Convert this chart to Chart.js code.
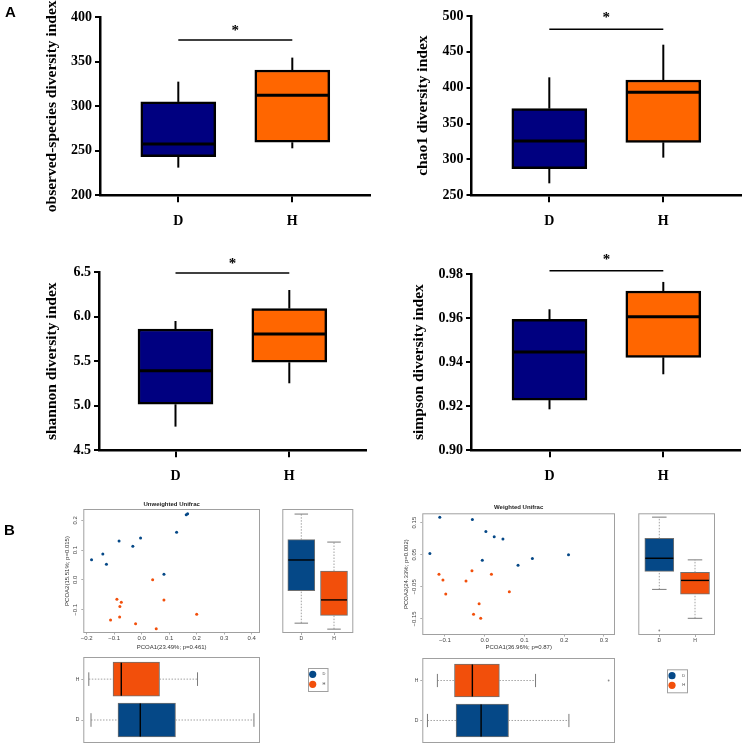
<!DOCTYPE html>
<html>
<head>
<meta charset="utf-8">
<title>Alpha and beta diversity</title>
<script src="https://cdn.jsdelivr.net/npm/chart.js@4.4.1/dist/chart.umd.min.js"></script>
<style>
  html, body { margin: 0; padding: 0; background: #fff; }
  #fig { position: relative; width: 742px; height: 748px; overflow: hidden; }
  #fig canvas { position: absolute; }
  .tag { position: absolute; font: bold 15px/15px "Liberation Sans", Arial, sans-serif; color: #000; }
</style>
</head>
<body>
<div id="fig">
  <canvas id="obs" width="371" height="245" style="left:0;top:0"></canvas>
  <canvas id="chao" width="371" height="245" style="left:371px;top:0"></canvas>
  <canvas id="shan" width="371" height="245" style="left:0;top:250px"></canvas>
  <canvas id="simp" width="371" height="245" style="left:371px;top:250px"></canvas>
  <canvas id="unwSc" width="270" height="161" style="left:0;top:490px"></canvas>
  <canvas id="unwBoxY" width="95" height="161" style="left:270px;top:490px"></canvas>
  <canvas id="unwBoxX" width="345" height="97" style="left:0;top:651px"></canvas>
  <canvas id="wSc" width="250" height="161" style="left:371px;top:490px"></canvas>
  <canvas id="wBoxY" width="112" height="161" style="left:630px;top:490px"></canvas>
  <canvas id="wBoxX" width="345" height="97" style="left:371px;top:651px"></canvas>
  <div class="tag" style="left:5px;top:4px">A</div>
  <div class="tag" style="left:4px;top:522px">B</div>
</div>
<script>
const groups = ['D', 'H'];

// panel A box stats: [min, q1, median, q3, max]
const observedD = [231.1, 243.4, 257.7, 304.9, 327.7];
const observedH = [252.8, 259.6, 312.4, 340.8, 354.7];
const chao1D = [266.7, 287.2, 325.7, 370.8, 414.5];
const chao1H = [302.5, 323.9, 393.6, 410.8, 460.0];
const shannonD = [4.766, 5.017, 5.395, 5.863, 5.953];
const shannonH = [5.253, 5.489, 5.807, 6.092, 6.301];
const simpsonD = [0.9186, 0.9228, 0.9446, 0.9594, 0.9640];
const simpsonH = [0.9345, 0.9422, 0.9606, 0.9723, 0.9764];

const observedTicks = [200, 250, 300, 350, 400];
const chao1Ticks = [250, 300, 350, 400, 450, 500];
const shannonTicks = [4.5, 5.0, 5.5, 6.0, 6.5];
const simpsonTicks = [0.90, 0.92, 0.94, 0.96, 0.98];

// significance bar: [bar level, star level]
const observedSig = [374.5, 387.6];
const chao1Sig = [481.4, 501];
const shannonSig = [6.493, 6.63];
const simpsonSig = [0.9815, 0.9879];

// panel B, PCoA coordinates [PCOA1, PCOA2]
const unwD = [[-0.182, 0.068], [-0.141, 0.087], [-0.128, 0.053], [-0.082, 0.131], [-0.032, 0.113],
  [-0.004, 0.141], [0.081, 0.019], [0.127, 0.160], [0.162, 0.219], [0.167, 0.222]];
const unwH = [[0.040, 0.001], [-0.090, -0.065], [-0.074, -0.075], [-0.079, -0.089], [0.081, -0.067],
  [0.200, -0.115], [-0.113, -0.134], [-0.080, -0.124], [-0.022, -0.147], [0.053, -0.164]];
const wD = [[-0.138, 0.054], [-0.113, 0.167], [-0.031, 0.160], [0.003, 0.122], [0.024, 0.106],
  [0.046, 0.099], [-0.006, 0.033], [0.084, 0.017], [0.120, 0.038], [0.211, 0.050]];
const wH = [[-0.115, -0.011], [-0.105, -0.029], [-0.098, -0.072], [-0.047, -0.032], [-0.032, 0.000],
  [0.017, -0.011], [0.062, -0.065], [-0.014, -0.103], [-0.028, -0.135], [-0.010, -0.148]];

// marginal boxes [min, q1, median, q3, max]
const unwPc2D = [-0.145, -0.036, 0.067, 0.135, 0.221];
const unwPc2H = [-0.165, -0.119, -0.067, 0.030, 0.127];
const unwPc1D = [-0.184, -0.086, -0.005, 0.123, 0.408];
const unwPc1H = [-0.192, -0.104, -0.074, 0.065, 0.203];
const wPc2D = [-0.058, -0.002, 0.039, 0.101, 0.167];
const wPc2H = [-0.148, -0.073, -0.030, -0.005, 0.034];
const wPc1D = [-0.144, -0.072, -0.009, 0.060, 0.212];
const wPc1H = [-0.119, -0.076, -0.031, 0.037, 0.128];
const wPc2Outliers = [[-0.186], []];
const wPc1Outliers = [[], [0.312]];

const unwRangeX = [-0.212, 0.43];
const unwRangeY = [-0.178, 0.238];
const wRangeX = [-0.157, 0.328];
const wRangeY = [-0.200, 0.179];
const unwTicksX = [-0.2, -0.1, 0.0, 0.1, 0.2, 0.3, 0.4];
const unwTicksY = [-0.1, 0.0, 0.1, 0.2];
const wTicksX = [-0.1, 0.0, 0.1, 0.2, 0.3];
const wTicksY = [-0.15, -0.05, 0.05, 0.15];

const navy = '#000080';
const orange = '#FF6600';
const blueB = '#054887';
const orangeB = '#F24F0B';
const serif = '"Liberation Serif", "Times New Roman", serif';
const sans = '"Liberation Sans", Arial, sans-serif';
Chart.defaults.font.family = sans;

const fmt = (v, d) => v.toFixed(d).replace('-', '\u2212');

// whiskers, medians, caps, outliers and the significance bar
function boxDecor(cfg) {
  return {
    id: 'boxDecor',
    afterDatasetsDraw(chart) {
      const ctx = chart.ctx;
      const horiz = chart.options.indexAxis === 'y';
      const iS = horiz ? chart.scales.y : chart.scales.x;
      const vS = horiz ? chart.scales.x : chart.scales.y;
      const seg = (i1, v1, i2, v2) => {
        ctx.beginPath();
        if (horiz) { ctx.moveTo(v1, i1); ctx.lineTo(v2, i2); }
        else { ctx.moveTo(i1, v1); ctx.lineTo(i2, v2); }
        ctx.stroke();
      };
      const p = v => vS.getPixelForValue(v);
      ctx.save();
      cfg.stats.forEach((s, k) => {
        const c = iS.getPixelForValue(k + 1);
        ctx.strokeStyle = cfg.whiskerColor;
        ctx.lineWidth = cfg.whiskerWidth;
        ctx.setLineDash(cfg.dash || []);
        seg(c, p(s[0]), c, p(s[1]));
        seg(c, p(s[3]), c, p(s[4]));
        ctx.setLineDash([]);
        if (cfg.cap) {
          ctx.strokeStyle = cfg.capColor;
          ctx.lineWidth = 1;
          seg(c - cfg.cap, p(s[0]), c + cfg.cap, p(s[0]));
          seg(c - cfg.cap, p(s[4]), c + cfg.cap, p(s[4]));
        }
        ctx.strokeStyle = '#000';
        ctx.lineWidth = cfg.medianWidth;
        seg(c - cfg.half, p(s[2]), c + cfg.half, p(s[2]));
        ((cfg.outliers && cfg.outliers[k]) || []).forEach(v => {
          ctx.fillStyle = '#8a8a8a';
          ctx.beginPath();
          if (horiz) ctx.arc(p(v), c, 0.9, 0, Math.PI * 2);
          else ctx.arc(c, p(v), 0.9, 0, Math.PI * 2);
          ctx.fill();
        });
      });
      if (cfg.sig) {
        const y = p(cfg.sig[0]);
        const x1 = iS.getPixelForValue(1), x2 = iS.getPixelForValue(2);
        ctx.strokeStyle = '#000';
        ctx.lineWidth = 1.5;
        seg(x1, y, x2, y);
        ctx.fillStyle = '#000';
        ctx.font = 'bold 15px ' + serif;
        ctx.textAlign = 'center';
        ctx.textBaseline = 'alphabetic';
        ctx.fillText('*', (x1 + x2) / 2, p(cfg.sig[1]) + 7);
      }
      ctx.restore();
    }
  };
}

// R style frame, rotated y tick labels and legend key
function rFrame(cfg) {
  return {
    id: 'rFrame',
    afterDraw(chart) {
      const { ctx, chartArea: a } = chart;
      ctx.save();
      ctx.strokeStyle = '#a0a0a0';
      ctx.lineWidth = 1;
      ctx.strokeRect(a.left + 0.5, a.top + 0.5, a.right - a.left - 1, a.bottom - a.top - 1);
      if (cfg.yDigits != null) {
        const s = chart.scales.y;
        ctx.fillStyle = '#444';
        ctx.font = '6px ' + sans;
        ctx.textAlign = 'center';
        ctx.textBaseline = 'middle';
        s.ticks.forEach(t => {
          ctx.save();
          ctx.translate(a.left - 8, s.getPixelForValue(t.value));
          ctx.rotate(-Math.PI / 2);
          ctx.fillText(fmt(t.value, cfg.yDigits), 0, 0);
          ctx.restore();
        });
      }
      if (cfg.legend) {
        const L = cfg.legend;
        ctx.strokeStyle = '#a0a0a0';
        ctx.strokeRect(L.x + 0.5, L.y + 0.5, L.w, L.h);
        const colors = chart.data.datasets[0].backgroundColor;
        groups.forEach((g, i) => {
          const cy = L.y + L.first + i * L.gap;
          ctx.fillStyle = colors[i];
          ctx.beginPath();
          ctx.arc(L.x + L.dot, cy, 3.6, 0, Math.PI * 2);
          ctx.fill();
          ctx.fillStyle = '#444';
          ctx.font = '4px ' + sans;
          ctx.textAlign = 'center';
          ctx.textBaseline = 'middle';
          ctx.fillText(g, L.x + L.text, cy);
        });
      }
      ctx.restore();
    }
  };
}

function alphaChart(id, box, statsD, statsH, yTicks, digits, sig, title) {
  const cv = document.getElementById(id);
  const W = cv.width, H = cv.height;
  const unit = box.h - box.d;
  return new Chart(cv, {
    type: 'bar',
    data: {
      datasets: [{
        data: [statsD, statsH].map((s, i) => ({ x: i + 1, y: [s[1], s[3]] })),
        backgroundColor: [navy, orange],
        borderColor: '#000',
        borderWidth: 2.5,
        borderSkipped: false,
        barThickness: 75
      }]
    },
    options: {
      responsive: false,
      animation: false,
      layout: { padding: { left: 0, right: W - box.right, top: box.top, bottom: 0 } },
      plugins: { legend: { display: false }, tooltip: { enabled: false } },
      scales: {
        x: {
          type: 'linear',
          min: 1 - (box.d - box.left) / unit,
          max: 2 + (box.right - box.h) / unit,
          offset: false,
          afterBuildTicks: s => { s.ticks = groups.map((g, i) => ({ value: i + 1 })); },
          afterFit: s => { s.height = H - box.bottom; },
          ticks: { callback: v => groups[v - 1], font: { family: serif, size: 14, weight: 'bold' }, color: '#000', padding: 11, maxRotation: 0 },
          grid: { offset: false, drawOnChartArea: false, tickLength: 7, lineWidth: 2, color: '#000' },
          border: { color: '#000', width: 2.5 }
        },
        y: {
          type: 'linear',
          min: yTicks[0],
          max: yTicks[yTicks.length - 1],
          beginAtZero: false,
          afterBuildTicks: s => { s.ticks = yTicks.map(v => ({ value: v })); },
          afterFit: s => { s.width = box.left; },
          ticks: { callback: v => v.toFixed(digits), font: { family: serif, size: 14, weight: 'bold' }, color: '#000', padding: 3 },
          grid: { drawOnChartArea: false, tickLength: 5, lineWidth: 2, color: '#000' },
          border: { color: '#000', width: 2.5 },
          title: { display: true, text: title, color: '#000', font: { family: serif, size: 15.5, weight: 'bold' }, padding: { top: box.titleX - 9.3, bottom: 0 } }
        }
      }
    },
    plugins: [boxDecor({ stats: [statsD, statsH], whiskerColor: '#000', whiskerWidth: 2, medianWidth: 3, half: 36, sig })]
  });
}

function pcoaScatter(id, box, ptsD, ptsH, rx, ry, tx, ty, xDigits, yDigits, title, xTitle, yTitle) {
  const cv = document.getElementById(id);
  const W = cv.width, H = cv.height;
  const toXY = pts => pts.map(p => ({ x: p[0], y: p[1] }));
  return new Chart(cv, {
    type: 'scatter',
    data: {
      datasets: [
        { label: groups[0], data: toXY(ptsD), backgroundColor: blueB, borderColor: blueB, pointRadius: 1.5, borderWidth: 0 },
        { label: groups[1], data: toXY(ptsH), backgroundColor: orangeB, borderColor: orangeB, pointRadius: 1.5, borderWidth: 0 }
      ]
    },
    options: {
      responsive: false,
      animation: false,
      layout: { padding: { left: 0, right: W - box.right, top: 0, bottom: 0 } },
      plugins: {
        legend: { display: false },
        tooltip: { enabled: false },
        title: { display: true, fullSize: false, text: title, color: '#222', font: { size: 6, weight: 'bold' }, padding: { top: box.tTop, bottom: box.tBottom } }
      },
      scales: {
        x: {
          type: 'linear', min: rx[0], max: rx[1],
          afterBuildTicks: s => { s.ticks = tx.map(v => ({ value: v })); },
          afterFit: s => { s.height = H - box.bottom; },
          ticks: { callback: v => fmt(v, xDigits), font: { size: 6 }, color: '#444', padding: 0, maxRotation: 0 },
          grid: { drawOnChartArea: false, tickLength: 1.5, color: '#999', lineWidth: 0.8 },
          border: { display: false },
          title: { display: true, text: xTitle, color: '#333', font: { size: 6 }, padding: { top: box.xtPad, bottom: 0 } }
        },
        y: {
          type: 'linear', min: ry[0], max: ry[1],
          afterBuildTicks: s => { s.ticks = ty.map(v => ({ value: v })); },
          afterFit: s => { s.width = box.left; },
          ticks: { display: false },
          grid: { drawOnChartArea: false, tickLength: 2, color: '#999', lineWidth: 0.8 },
          border: { display: false },
          title: { display: true, text: yTitle, color: '#333', font: { size: 6 }, padding: { top: box.ytX - 3.6, bottom: 0 } }
        }
      }
    },
    plugins: [rFrame({ yDigits })]
  });
}

function sideBox(id, box, statsD, statsH, ry, outliers) {
  const cv = document.getElementById(id);
  const W = cv.width, H = cv.height;
  const unit = box.h - box.d;
  return new Chart(cv, {
    type: 'bar',
    data: {
      datasets: [{
        data: [statsD, statsH].map((s, i) => ({ x: i + 1, y: [s[1], s[3]] })),
        backgroundColor: [blueB, orangeB],
        borderColor: '#707070',
        borderWidth: 1,
        borderSkipped: false,
        barThickness: box.bw
      }]
    },
    options: {
      responsive: false,
      animation: false,
      layout: { padding: { left: box.left, right: W - box.right, top: box.top, bottom: 0 } },
      plugins: { legend: { display: false }, tooltip: { enabled: false } },
      scales: {
        x: {
          type: 'linear',
          min: 1 - (box.d - box.left) / unit,
          max: 2 + (box.right - box.h) / unit,
          offset: false,
          afterBuildTicks: s => { s.ticks = groups.map((g, i) => ({ value: i + 1 })); },
          afterFit: s => { s.height = H - box.bottom; },
          ticks: { callback: v => groups[v - 1], font: { size: 5 }, color: '#444', padding: 1, maxRotation: 0 },
          grid: { offset: false, drawOnChartArea: false, tickLength: 2, color: '#999', lineWidth: 0.8 },
          border: { display: false }
        },
        y: { type: 'linear', display: false, min: ry[0], max: ry[1], beginAtZero: false }
      }
    },
    plugins: [
      boxDecor({ stats: [statsD, statsH], whiskerColor: '#8c8c8c', whiskerWidth: 0.8, dash: [1.5, 1.5], cap: box.bw / 4, capColor: '#7a7a7a', medianWidth: 1.4, half: box.bw / 2 - 0.5, outliers }),
      rFrame({})
    ]
  });
}

function bottomBox(id, box, statsD, statsH, rx, outliers, legend) {
  const cv = document.getElementById(id);
  const W = cv.width, H = cv.height;
  const unit = box.d - box.h;
  return new Chart(cv, {
    type: 'bar',
    data: {
      datasets: [{
        data: [statsD, statsH].map((s, i) => ({ y: i + 1, x: [s[1], s[3]] })),
        backgroundColor: [blueB, orangeB],
        borderColor: '#707070',
        borderWidth: 1,
        borderSkipped: false,
        barThickness: box.bh
      }]
    },
    options: {
      indexAxis: 'y',
      responsive: false,
      animation: false,
      layout: { padding: { left: 0, right: W - box.right, top: box.top, bottom: H - box.bottom } },
      plugins: { legend: { display: false }, tooltip: { enabled: false } },
      scales: {
        y: {
          type: 'linear',
          min: 1 - (box.bottom - box.d) / unit,
          max: 2 + (box.h - box.top) / unit,
          offset: false,
          afterBuildTicks: s => { s.ticks = groups.map((g, i) => ({ value: i + 1 })); },
          afterFit: s => { s.width = box.left; },
          ticks: { callback: v => groups[v - 1], font: { size: 5 }, color: '#444', padding: 2 },
          grid: { offset: false, drawOnChartArea: false, tickLength: 2, color: '#999', lineWidth: 0.8 },
          border: { display: false }
        },
        x: { type: 'linear', display: false, min: rx[0], max: rx[1], beginAtZero: false }
      }
    },
    plugins: [
      boxDecor({ stats: [statsD, statsH], whiskerColor: '#8c8c8c', whiskerWidth: 0.8, dash: [1.5, 1.5], cap: box.bh / 5, capColor: '#7a7a7a', medianWidth: 1.4, half: box.bh / 2 - 0.5, outliers }),
      rFrame({ legend })
    ]
  });
}

// panel A
alphaChart('obs', { left: 100, right: 370, top: 17.3, bottom: 195.3, d: 178.3, h: 292.3, titleX: 52 },
  observedD, observedH, observedTicks, 0, observedSig, 'observed-species diversity index');
alphaChart('chao', { left: 100.5, right: 370, top: 16, bottom: 195.3, d: 178.3, h: 292.3, titleX: 52 },
  chao1D, chao1H, chao1Ticks, 0, chao1Sig, 'chao1 diversity index');
alphaChart('shan', { left: 99, right: 366, top: 22.3, bottom: 200.3, d: 175.5, h: 289.3, titleX: 52 },
  shannonD, shannonH, shannonTicks, 1, shannonSig, 'shannon diversity index');
alphaChart('simp', { left: 100, right: 369, top: 24, bottom: 200.3, d: 178.5, h: 292.3, titleX: 48 },
  simpsonD, simpsonH, simpsonTicks, 2, simpsonSig, 'simpson diversity index');

// panel B, unweighted
pcoaScatter('unwSc', { left: 83.3, right: 260, bottom: 143, tTop: 10.4, tBottom: 1.4, xtPad: 1.4, ytX: 67 },
  unwD, unwH, unwRangeX, unwRangeY, unwTicksX, unwTicksY, 1, 1,
  'Unweighted Unifrac', 'PCOA1(23.49%; p=0.461)', 'PCOA2(15.51%; p=0.015)');
sideBox('unwBoxY', { left: 12.3, right: 83.3, top: 19, bottom: 143, d: 31.3, h: 64, bw: 27 },
  unwPc2D, unwPc2H, unwRangeY, null);
bottomBox('unwBoxX', { left: 83.3, right: 260, top: 6, bottom: 95, h: 28.9, d: 71.2, bh: 34 },
  unwPc1D, unwPc1H, unwRangeX, null,
  { x: 308, y: 17, w: 19.5, h: 23, dot: 4.7, text: 16, first: 6.3, gap: 10 });

// panel B, weighted
pcoaScatter('wSc', { left: 51.3, right: 244, bottom: 145, tTop: 13.7, tBottom: 2.4, xtPad: 0.7, ytX: 35 },
  wD, wH, wRangeX, wRangeY, wTicksX, wTicksY, 1, 2,
  'Weighted Unifrac', 'PCOA1(36.96%; p=0.87)', 'PCOA2(24.33%; p=0.002)');
sideBox('wBoxY', { left: 8.3, right: 85, top: 23.3, bottom: 145, d: 29.3, h: 65, bw: 29 },
  wPc2D, wPc2H, wRangeY, wPc2Outliers);
bottomBox('wBoxX', { left: 51.3, right: 244, top: 7, bottom: 95, h: 30.3, d: 71.7, bh: 33 },
  wPc1D, wPc1H, wRangeX, wPc1Outliers,
  { x: 296, y: 18.3, w: 20, h: 23, dot: 5, text: 16.7, first: 6.4, gap: 9.6 });
</script>
</body>
</html>
